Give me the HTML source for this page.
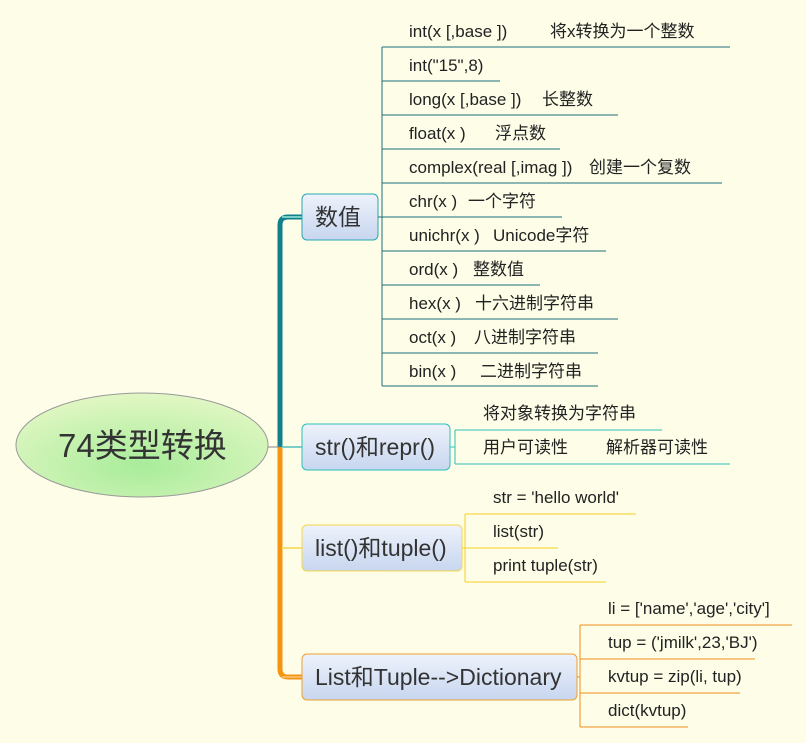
<!DOCTYPE html>
<html><head><meta charset="utf-8"><style>
html,body{margin:0;padding:0;background:#fdfde8;}
svg{display:block}
text{font-family:"Liberation Sans","Noto Sans CJK SC",sans-serif;fill:#222;}
.t{font-size:17px}
.n{font-size:23px;fill:#333}
</style></head><body>
<svg width="806" height="743" viewBox="0 0 806 743" xmlns="http://www.w3.org/2000/svg">
<defs>
<linearGradient id="g" x1="0" y1="0" x2="0" y2="1"><stop offset="0" stop-color="#eef2fb"/><stop offset="1" stop-color="#c7d6ef"/></linearGradient>
<radialGradient id="r" cx="0.5" cy="0.7" r="0.7"><stop offset="0" stop-color="#a8ec9a"/><stop offset="1" stop-color="#e2f7c4"/></radialGradient>
</defs>
<rect width="806" height="743" fill="#fdfde8"/>
<path d="M302 217 H288 Q280 217 280 225 V447" stroke="#117f8c" stroke-width="5" fill="none"/>
<path d="M280 447 V669 Q280 677 288 677 H302" stroke="#f5940f" stroke-width="5" fill="none"/>
<line x1="282" y1="217" x2="302" y2="217" stroke="#7ccfc8" stroke-width="2"/>
<line x1="282" y1="447" x2="302" y2="447" stroke="#7ccfc8" stroke-width="2"/>
<line x1="282" y1="548" x2="302" y2="548" stroke="#f8e070" stroke-width="2"/>
<line x1="282" y1="677" x2="302" y2="677" stroke="#f8b860" stroke-width="2"/>
<line x1="268" y1="447" x2="280" y2="447" stroke="#888" stroke-width="1"/>
<ellipse cx="142" cy="445" rx="126" ry="52" fill="url(#r)" stroke="#999" stroke-width="1"/>
<text x="58" y="457" style="font-size:33px;fill:#333">74类型转换</text>
<rect x="302" y="194" width="76" height="46" rx="5" fill="url(#g)" stroke="#2aa6b0"/>
<text class="n" x="315" y="225">数值</text>
<rect x="302" y="424" width="148" height="46" rx="5" fill="url(#g)" stroke="#2ec0b8"/>
<text class="n" x="315" y="455">str()和repr()</text>
<rect x="302" y="525" width="160" height="46" rx="5" fill="url(#g)" stroke="#f5d64a"/>
<text class="n" x="315" y="556">list()和tuple()</text>
<rect x="302" y="654" width="275" height="46" rx="5" fill="url(#g)" stroke="#f0a030"/>
<text class="n" x="315" y="685">List和Tuple--&gt;Dictionary</text>
<g stroke="#1f6f7a" stroke-width="1" fill="none">
<line x1="378" y1="217" x2="382" y2="217"/>
<line x1="382" y1="47" x2="382" y2="386"/>
<line x1="382" y1="47" x2="730" y2="47"/>
<line x1="382" y1="81" x2="500" y2="81"/>
<line x1="382" y1="115" x2="618" y2="115"/>
<line x1="382" y1="149" x2="560" y2="149"/>
<line x1="382" y1="183" x2="722" y2="183"/>
<line x1="382" y1="217" x2="562" y2="217"/>
<line x1="382" y1="251" x2="606" y2="251"/>
<line x1="382" y1="285" x2="540" y2="285"/>
<line x1="382" y1="319" x2="618" y2="319"/>
<line x1="382" y1="353" x2="598" y2="353"/>
<line x1="382" y1="386" x2="598" y2="386"/>
</g>
<text class="t" x="409" y="37">int(x [,base ])</text><text class="t" x="550" y="37">将x转换为一个整数</text>
<text class="t" x="409" y="71">int("15",8)</text>
<text class="t" x="409" y="105">long(x [,base ])</text><text class="t" x="542" y="105">长整数</text>
<text class="t" x="409" y="139">float(x )</text><text class="t" x="495" y="139">浮点数</text>
<text class="t" x="409" y="173">complex(real [,imag ])</text><text class="t" x="589" y="173">创建一个复数</text>
<text class="t" x="409" y="207">chr(x )</text><text class="t" x="468" y="207">一个字符</text>
<text class="t" x="409" y="241">unichr(x )</text><text class="t" x="493" y="241">Unicode字符</text>
<text class="t" x="409" y="275">ord(x )</text><text class="t" x="473" y="275">整数值</text>
<text class="t" x="409" y="309">hex(x )</text><text class="t" x="475" y="309">十六进制字符串</text>
<text class="t" x="409" y="343">oct(x )</text><text class="t" x="474" y="343">八进制字符串</text>
<text class="t" x="409" y="377">bin(x )</text><text class="t" x="480" y="377">二进制字符串</text>
<g stroke="#2ec0b8" stroke-width="1" fill="none">
<line x1="450" y1="447" x2="455" y2="447"/>
<line x1="455" y1="430" x2="455" y2="464"/>
<line x1="455" y1="430" x2="662" y2="430"/>
<line x1="455" y1="464" x2="730" y2="464"/>
</g>
<text class="t" x="483" y="419">将对象转换为字符串</text>
<text class="t" x="483" y="453">用户可读性</text><text class="t" x="606" y="453">解析器可读性</text>
<g stroke="#f5d020" stroke-width="1" fill="none">
<line x1="462" y1="548" x2="465" y2="548"/>
<line x1="465" y1="514" x2="465" y2="582"/>
<line x1="465" y1="514" x2="636" y2="514"/>
<line x1="465" y1="548" x2="558" y2="548"/>
<line x1="465" y1="582" x2="606" y2="582"/>
</g>
<text class="t" x="493" y="503">str = 'hello world'</text>
<text class="t" x="493" y="537">list(str)</text>
<text class="t" x="493" y="571">print tuple(str)</text>
<g stroke="#f0901a" stroke-width="1" fill="none">
<line x1="577" y1="677" x2="580" y2="677"/>
<line x1="580" y1="625" x2="580" y2="727"/>
<line x1="580" y1="625" x2="792" y2="625"/>
<line x1="580" y1="659" x2="755" y2="659"/>
<line x1="580" y1="693" x2="740" y2="693"/>
<line x1="580" y1="727" x2="688" y2="727"/>
</g>
<text class="t" x="608" y="614">li = ['name','age','city']</text>
<text class="t" x="608" y="648">tup = ('jmilk',23,'BJ')</text>
<text class="t" x="608" y="682">kvtup = zip(li, tup)</text>
<text class="t" x="608" y="716">dict(kvtup)</text>
</svg>
</body></html>
